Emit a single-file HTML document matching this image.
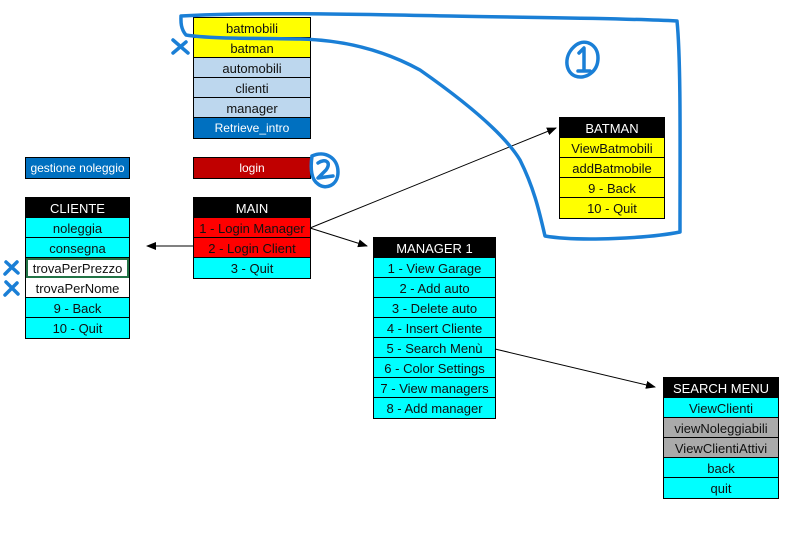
<!DOCTYPE html>
<html><head><meta charset="utf-8"><style>
body{margin:0;width:792px;height:539px;background:#fff;position:relative;overflow:hidden;font-family:"Liberation Sans",sans-serif}
.t{position:absolute;border:1px solid #000;box-sizing:border-box}
.t div{height:20px;line-height:21px;text-align:center;font-size:13px;border-bottom:1px solid #000;box-sizing:border-box;white-space:nowrap;overflow:hidden;color:#111}
.t div:last-child{border-bottom:none}
.h{background:#000;color:#fff!important}
.y{background:#ff0}.lb{background:#bdd7ee}.db{background:#0070c0;color:#fff!important;font-size:12px!important}
.c{background:#0ff}.r{background:#f00}.dr{background:#c00000;color:#fff!important;font-size:12px!important}.g{background:#aaa}.w{background:#fff}
svg{position:absolute;left:0;top:0}
</style></head><body>
<div class="t" style="left:193px;top:17px;width:118px"><div class="y">batmobili</div><div class="y">batman</div><div class="lb">automobili</div><div class="lb">clienti</div><div class="lb">manager</div><div class="db">Retrieve_intro</div></div>
<div class="t" style="left:193px;top:157px;width:118px"><div class="dr">login</div></div>
<div class="t" style="left:25px;top:157px;width:105px"><div class="db">gestione noleggio</div></div>
<div class="t" style="left:25px;top:197px;width:105px"><div class="h">CLIENTE</div><div class="c">noleggia</div><div class="c">consegna</div><div class="w" style="outline:2px solid #217346;outline-offset:-2px">trovaPerPrezzo</div><div class="w">trovaPerNome</div><div class="c">9 - Back</div><div class="c">10 - Quit</div></div>
<div class="t" style="left:193px;top:197px;width:118px"><div class="h">MAIN</div><div class="r">1 - Login Manager</div><div class="r">2 - Login Client</div><div class="c">3 - Quit</div></div>
<div class="t" style="left:373px;top:237px;width:123px"><div class="h">MANAGER 1</div><div class="c">1 - View Garage</div><div class="c">2 - Add auto</div><div class="c">3 - Delete auto</div><div class="c">4 - Insert Cliente</div><div class="c">5 - Search Menù</div><div class="c">6 - Color Settings</div><div class="c">7 - View managers</div><div class="c">8 - Add manager</div></div>
<div class="t" style="left:559px;top:117px;width:106px"><div class="h">BATMAN</div><div class="y">ViewBatmobili</div><div class="y">addBatmobile</div><div class="y">9 - Back</div><div class="y">10 - Quit</div></div>
<div class="t" style="left:663px;top:377px;width:116px"><div class="h">SEARCH MENU</div><div class="c">ViewClienti</div><div class="g">viewNoleggiabili</div><div class="g">ViewClientiAttivi</div><div class="c">back</div><div class="c">quit</div></div>
<svg width="792" height="539">
<defs><marker id="a" markerWidth="10" markerHeight="8" refX="9" refY="4" orient="auto" markerUnits="userSpaceOnUse"><path d="M0,0L10,4L0,8z" fill="#000"/></marker></defs>
<g stroke="#000" stroke-width="1" fill="none">
<line x1="310" y1="228" x2="556" y2="128" marker-end="url(#a)"/>
<line x1="310" y1="228" x2="367" y2="246" marker-end="url(#a)"/>
<line x1="193" y1="246" x2="147" y2="246" marker-end="url(#a)"/>
<line x1="495" y1="349" x2="655" y2="387" marker-end="url(#a)"/>
</g>
<g stroke="#1a7fd6" stroke-width="3.5" fill="none" stroke-linecap="round" stroke-linejoin="round">
<path d="M181,16 C250,12 350,14 450,16 C550,18 620,18 677,21 C681,60 680,150 680,232 C650,238 580,242 545,236 C540,215 535,190 520,160 C505,135 470,105 420,70 C380,48 340,40 300,39 C260,38 210,39 186,35 C180,28 181,20 181,16"/>
<path d="M576,45 C586,38 598,45 598,58 C598,72 585,80 575,76 C565,72 563,55 576,45"/>
<path d="M579,53 L584,48 L584,71 M578,71 L590,71"/>
<path d="M312,156 C325,150 338,158 338,172 C338,186 325,190 318,184 C312,180 310,170 312,156"/>
<path d="M318,163 C325,158 332,162 326,170 L318,178 L333,176"/>
<path d="M173,40 L188,53 M173,53 L186,42"/>
<path d="M6,262 L18,273 M5,274 L17,262"/>
<path d="M6,282 L18,294 M5,295 L17,283"/>
</g>
</svg>
</body></html>
